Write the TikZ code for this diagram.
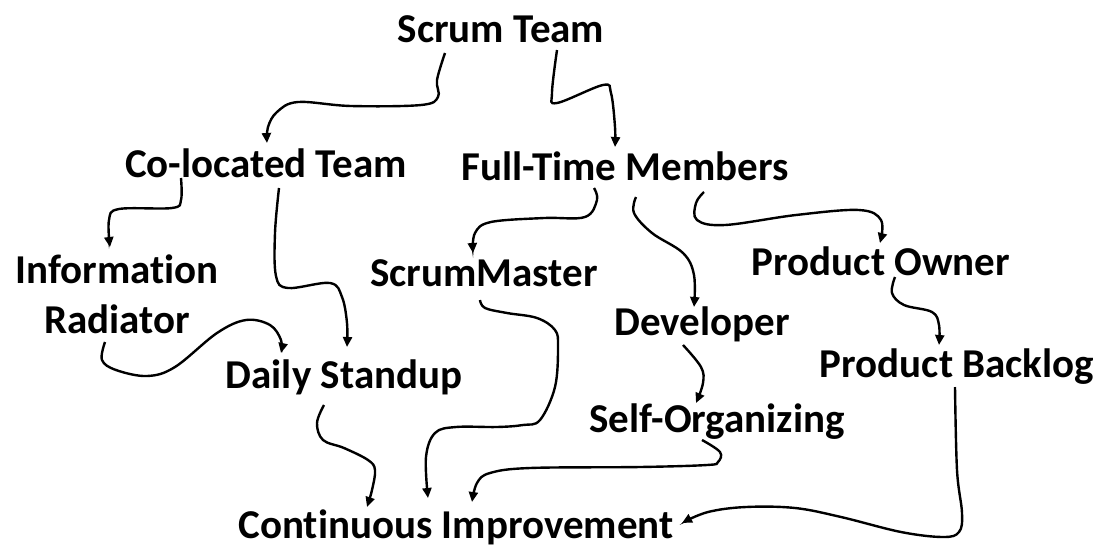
\documentclass[tikz,border=0pt]{standalone}
\usepackage{fontspec}
\setmainfont{Carlito}[Ligatures=NoCommon]
\usepackage{tikz}
\usetikzlibrary{arrows.meta}
\tikzset{
         term/.style={font=\fontsize{41}{50}\selectfont\bfseries,inner sep=0pt,anchor=base,align=center},
         link/.style={line width=2.4pt,-{Triangle[length=10pt,width=9pt]}}
        }

\begin{document}
\begin{tikzpicture}[x=1pt,y=-1pt]
\useasboundingbox (0,0) rectangle (1101,547);

\node[term] (st) at (501,42){Scrum Team};
\node[term] (cl) at (266,177){Co-located Team};
\node[term] (fm) at (625,180){Full-Time Members};
\node[term,anchor=center] (ir) at (117,294){Information\\Radiator};
\node[term] (sm) at (484,286){ScrumMaster};
\node[term] (po) at (881,275){Product Owner};
\node[term] (dv) at (702,335){Developer};
\node[term] (pb) at (957,377){Product Backlog};
\node[term] (ds) at (344,388){Daily Standup};
\node[term] (so) at (717,432){Self-Organizing};
\node[term] (ci) at (456,538){Continuous Improvement};

\draw[link] plot[smooth,tension=0.6] coordinates {([shift={(-56,11)}]st.base) (437,80) (438,97) (421,105) (351,106) (298,102) (277,112) (268,127) ([shift={(1,-34)}]cl.base)}; %team to co-located
\draw[link] plot[smooth,tension=0.6] coordinates {([shift={(56,8)}]st.base) (552,93) (557,103) (603,85) (611,93) (615,127) ([shift={(-10,-33)}]fm.base)}; %team to full-time
\draw[link] plot[smooth,tension=0.6] coordinates {([shift={(-85,1)}]cl.base) (181,200) (172,208) (119,209) (109,220) ([shift={(-7,-47)}]ir.center)}; %co-located to radiator
\draw[link] plot[smooth,tension=0.6] coordinates {([shift={(13,11)}]cl.base) (275,233) (276,276) (288,288) (330,283) (342,297) (347,323) ([shift={(3,-41)}]ds.base)}; %co-located to standup
\draw[link] plot[smooth,tension=0.6] coordinates {([shift={(-12,48)}]ir.center) (102,360) (116,370) (147,376) (175,367) (217,333) (246,320) (270,325) (281,340) ([shift={(-63,-35)}]ds.base)}; %radiator to standup
\draw[link] plot[smooth,tension=0.6] coordinates {([shift={(-31,8)}]fm.base) (597,200) (585,217) (544,218) (491,222) (475,233) ([shift={(-11,-33)}]sm.base)}; %full-time to scrummaster
\draw[link] plot[smooth,tension=0.6] coordinates {([shift={(11,17)}]fm.base) (634,213) (652,233) (683,253) (694,275) ([shift={(-8,-28)}]dv.base)}; %full-time to developer
\draw[link] plot[smooth,tension=0.6] coordinates {([shift={(79,12)}]fm.base) (696,203) (697,220) (725,225) (796,215) (859,210) (881,220) ([shift={(-1,-32)}]po.base)}; %full-time to owner
\draw[link] plot[smooth,tension=0.6] coordinates {([shift={(-19,10)}]dv.base) (701,367) (703,383) ([shift={(-21,-29)}]so.base)}; %developer to self-organizing
\draw[link] plot[smooth,tension=0.6] coordinates {([shift={(14,2)}]po.base) (892,293) (904,305) (932,312) (939,325) ([shift={(-18,-32)}]pb.base)}; %owner to backlog
\draw[link] plot[smooth,tension=0.6] coordinates {([shift={(-4,14)}]sm.base) (485,308) (507,313) (537,318) (555,330) (558,347) (555,387) (540,420) (523,425) (497,427) (456,427) (435,433) (426,457) ([shift={(-28,-40)}]ci.base)}; %scrummaster to improvement
\draw[link] plot[smooth,tension=0.6] coordinates {([shift={(-20,17)}]ds.base) (317,423) (323,440) (344,448) (368,460) (375,470) (372,490) ([shift={(-89,-31)}]ci.base)}; %standup to improvement
\draw[link] plot[smooth,tension=0.6] coordinates {([shift={(-15,8)}]so.base) (720,452) (718,462) (707,465) (640,467) (530,468) (490,473) (477,483) ([shift={(16,-36)}]ci.base)}; %self-organizing to improvement
\draw[link] plot[smooth,tension=0.6] coordinates {([shift={(-2,10)}]pb.base) (957,470) (962,513) (959,532) (943,537) (901,532) (841,517) (795,508) (746,507) (708,512) ([shift={(226,-15)}]ci.base)}; %backlog to improvement
\end{tikzpicture}
\end{document}
